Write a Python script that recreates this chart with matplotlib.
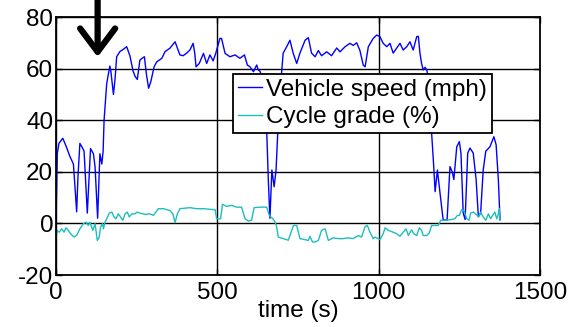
import matplotlib
matplotlib.use("Agg")
import matplotlib.pyplot as plt

plt.rcParams['font.family'] = ['Liberation Sans', 'DejaVu Sans']
plt.rcParams['axes.unicode_minus'] = False

# Vehicle speed trace (time in s, speed in mph)
speed_t = [0, 4, 9, 21, 31, 43, 54, 64, 68, 74, 81, 87, 97, 107, 116, 121, 129,
           136, 142, 146, 149, 157, 161, 167, 170, 178, 183, 188, 198, 209, 219,
           229, 239, 245, 252, 260, 267, 274, 280, 287, 294, 304, 312, 328, 338,
           353, 369, 376, 384, 394, 405, 415, 425, 430, 434, 444, 457, 467, 477,
           487, 495, 502, 508, 513, 524, 539, 555, 570, 584, 593, 601, 612, 622,
           627, 632, 638, 653, 658, 663, 669, 676, 682, 689, 699, 704, 715, 725,
           735, 746, 756, 772, 782, 792, 803, 813, 823, 839, 854, 870, 880, 896,
           911, 921, 932, 942, 952, 958, 968, 983, 994, 1004, 1014, 1025, 1035,
           1045, 1056, 1066, 1076, 1087, 1097, 1107, 1118, 1123, 1128, 1133, 1138,
           1144, 1149, 1153, 1164, 1170, 1175, 1182, 1188, 1195, 1200, 1212, 1221,
           1228, 1233, 1242, 1250, 1255, 1262, 1268, 1276, 1283, 1293, 1302, 1309,
           1316, 1324, 1332, 1345, 1357, 1364, 1371, 1376]
speed_mph = [0, 27, 31, 33, 30, 26, 23, 4.5, 18, 31, 29.5, 28, 4, 29, 27, 22, 2,
             27, 23, 28, 40, 54, 57, 61, 59, 50, 56, 64.6, 66.6, 67.5, 68.5,
             65, 59, 57, 55.8, 63.3, 64, 64.6, 58, 52.4, 55, 60.7, 62.6, 64, 66.6,
             67.9, 70.4, 68, 65.3, 65, 66, 67.2, 69.8, 66, 60.7, 62, 65.9, 62, 65.3,
             63, 65.9, 69, 71.7, 71.7, 65.9, 64.6, 65.3, 64, 65.3, 61.4, 60.7, 58.8, 61.4,
             59.5, 59, 57, 36, 16.8, 2, 20.7, 14.2, 20.7, 40, 58.2, 66, 68.5, 71,
             66, 62, 66, 71, 72, 66, 64.6, 67, 65, 66.5, 65, 68, 66.5, 68.5,
             69.8, 69, 70, 67, 61.4, 60.7, 68.5, 71.7, 73, 72.4, 69.8, 68.5, 69.8,
             66, 68, 69.8, 67.2, 68.5, 70.4, 67.2, 72.4, 72.5, 66, 62, 59.5,
             60.5, 59.5, 57, 35, 23.4, 12.3, 20.7, 14, 6.5, 1.3, 1.3, 22,
             20, 17, 29.7, 31.7, 27.3, 4, 1.5, 27.3, 29.2, 27.3, 17, 2.6,
             4, 20.7, 28, 29.7, 33.6, 30.5, 16.8, 1.5]

# Road grade trace (time in s, grade in %)
grade_t = [0, 4, 10, 18, 25, 31, 38, 45, 56, 64, 74, 85, 93, 100, 105, 114, 121,
           128, 134, 138, 144, 147, 152, 157, 165, 173, 180, 186, 193, 200, 207,
           214, 221, 227, 235, 245, 252, 260, 276, 291, 302, 317, 333, 353, 362,
           369, 376, 384, 415, 436, 457, 477, 493, 498, 510, 516, 529, 544, 560,
           575, 586, 596, 606, 614, 632, 653, 661, 672, 679, 684, 689, 704, 720,
           727, 736, 746, 756, 772, 782, 787, 795, 803, 813, 823, 834, 844, 859,
           875, 890, 906, 921, 937, 947, 958, 965, 973, 983, 989, 1004, 1014, 1020,
           1030, 1045, 1056, 1066, 1076, 1085, 1092, 1102, 1109, 1118, 1126, 1133,
           1138, 1149, 1157, 1164, 1185, 1192, 1205, 1221, 1236, 1244, 1250, 1257,
           1264, 1273, 1280, 1285, 1293, 1302, 1309, 1316, 1324, 1332, 1340, 1347,
           1353, 1360, 1366, 1371, 1374, 1376]
grade_pct = [-5.9, -2.7, -3.4, -2.1, -3.4, -1.7, -2.7, -4.0, -5.3, -4.6, -2.1, -0.1,
             0.5, -0.8, 0.5, -2.7, -0.1, -6.6, -5.3, -1.4, -0.1, -2.1, 0.5, 1.8, 4.0,
             4.4, 2.5, 1.8, 3.7, 2.5, 1.2, 3.7, 4.4, 2.5, 3.7, 3.7, 4.4, 4.0, 3.5,
             3.7, 3.1, 5.7, 5.7, 5.0, 3.7, 0.3, 3.7, 5.7, 6.1, 5.7, 5.7, 5.5, 5.3,
             1.8, 1.8, 7.4, 6.6, 7.0, 6.3, 6.3, 1.8, 0.9, 1.2, 6.1, 6.3, 6.3, 3.1,
             1.8, 0.5, -1.4, -5.3, -5.9, -6.5, -4.0, -0.8, -0.8, -5.9, -6.3, -6.6,
             -5.0, -7.2, -7.2, -6.6, -2.7, -2.1, -6.6, -5.6, -5.9, -5.9, -5.6, -5.9,
             -4.7, -5.3, -1.2, -0.8, -3.4, -5.9, -5.3, -6.3, -4.0, -1.7, -2.7, -3.4,
             -4.0, -5.0, -3.4, -2.1, -4.7, -2.5, -4.0, -4.7, -1.7, -2.7, -4.7, -4.7,
             -3.7, -0.8, -0.8, 1.2, 1.2, 1.4, 1.8, 3.1, 3.1, 5.3, 5.0, 1.8, 1.2, 4.0,
             4.4, 3.5, 2.5, 4.4, 2.5, 1.2, 3.7, 1.8, 3.1, 4.4, 1.8, 3.7, 5.7, 1.2]

x_ticks = [0, 500, 1000, 1500]
y_ticks = [-20, 0, 20, 40, 60, 80]
series_labels = ['Vehicle speed (mph)', 'Cycle grade (%)']

# Pointer marking the start of the highway segment
arrow_tip = (129, 64.5)
arrow_tail = (129, 87)

FS = 17.5

fig = plt.figure(figsize=(5.68, 3.27), dpi=100)
ax = fig.add_axes([0.0986, 0.159, 0.8521, 0.789])

ax.plot(speed_t, speed_mph, color='#0000ff', lw=1.0, label=series_labels[0])
ax.plot(grade_t, grade_pct, color='#1fbdbd', lw=1.0, label=series_labels[1])

ax.set_xlim(0, 1500)
ax.set_ylim(-20, 80)
ax.set_xticks(x_ticks)
ax.set_yticks(y_ticks)
ax.grid(True, color='black', lw=1.0, ls='-')
ax.set_axisbelow(True)
ax.tick_params(direction='in', length=4, width=1, labelsize=FS, pad=2,
               top=True, right=True, colors='black')
ax.tick_params(axis='x', pad=5)
for s in ax.spines.values():
    s.set_linewidth(1.3)
    s.set_color('black')

ax.set_xlabel('time (s)', fontsize=FS, labelpad=-3)

leg = ax.legend(loc='lower left', bbox_to_anchor=(0.366, 0.55), borderaxespad=0,
                fontsize=FS, handlelength=1.0, handletextpad=0.15,
                labelspacing=0.22, borderpad=0.2, fancybox=False, framealpha=1)
leg.get_frame().set_edgecolor('black')
leg.get_frame().set_linewidth(1.3)

ax.annotate('', xy=arrow_tip, xytext=arrow_tail, xycoords='data',
            textcoords='data', annotation_clip=False,
            arrowprops=dict(arrowstyle='->,head_length=0.6,head_width=0.45',
                            mutation_scale=28, lw=4.5, color='black',
                            shrinkA=0, shrinkB=0))

fig.savefig('out.png', dpi=100)
